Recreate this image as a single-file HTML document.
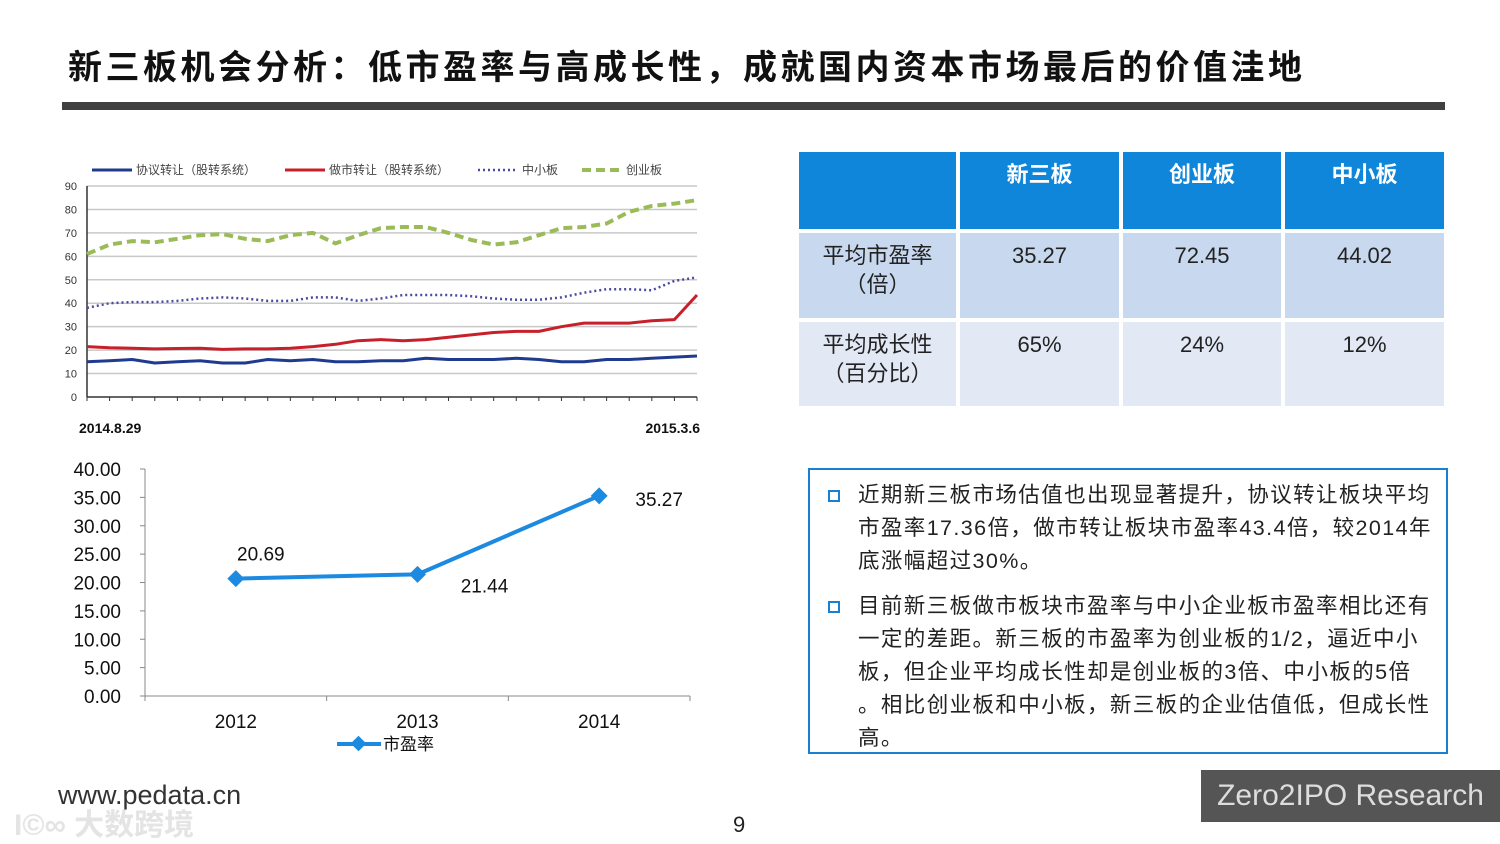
<!DOCTYPE html>
<html><head><meta charset="utf-8">
<style>
body{margin:0;width:1500px;height:844px;background:#fff;position:relative;overflow:hidden;font-family:"Liberation Sans","Noto Sans CJK SC",sans-serif;}
.abs{position:absolute;}
#title{left:68px;top:40px;font-size:34px;font-weight:bold;color:#111;letter-spacing:3.5px;white-space:nowrap;}
#bar{left:62px;top:102px;width:1383px;height:8px;background:#404040;}
table{position:absolute;left:797px;top:150px;border-collapse:separate;border-spacing:4px;margin:-2px;}
td{font-size:22px;color:#222;text-align:center;vertical-align:top;padding-top:8px;line-height:29px;}
.h td{background:#0f86d9;color:#fff;font-weight:bold;height:68px;}
.r1 td{background:#c8d9ef;height:76px;}
.r2 td{background:#e2e9f5;height:75px;}
#box{left:808px;top:468px;width:636px;height:282px;border:2px solid #1a7fd0;}
.p{position:absolute;left:48px;width:590px;font-size:21.5px;line-height:33px;color:#222;white-space:nowrap;}
.bul{position:absolute;left:18px;width:8px;height:8px;border:2px solid #1a7fd0;}
#logo{left:1201px;top:770px;width:299px;height:52px;background:#555;color:#ddd;font-size:30px;line-height:52px;text-align:center;}
</style></head><body>
<div class="abs" id="title">新三板机会分析：低市盈率与高成长性，成就国内资本市场最后的价值洼地</div>
<div class="abs" id="bar"></div>

<svg class="abs" style="left:0;top:0" width="760" height="770">
<g id="top"></g>
<g id="bot"></g>
</svg>

<table>
<tr class="h"><td style="width:155px"></td><td style="width:157px">新三板</td><td style="width:156px">创业板</td><td style="width:157px">中小板</td></tr>
<tr class="r1"><td>平均市盈率<br>（倍）</td><td>35.27</td><td>72.45</td><td>44.02</td></tr>
<tr class="r2"><td>平均成长性<br>（百分比）</td><td>65%</td><td>24%</td><td>12%</td></tr>
</table>

<div class="abs" id="box">
<div class="bul" style="top:20px"></div>
<div class="p" style="top:9px;letter-spacing:1.4px">近期新三板市场估值也出现显著提升，协议转让板块平均<br>市盈率17.36倍，做市转让板块市盈率43.4倍，较2014年<br>底涨幅超过30%。</div>
<div class="bul" style="top:131px"></div>
<div class="p" style="top:120px;letter-spacing:1.4px">目前新三板做市板块市盈率与中小企业板市盈率相比还有<br>一定的差距。新三板的市盈率为创业板的1/2，逼近中小<br>板，但企业平均成长性却是创业板的3倍、中小板的5倍<br>。相比创业板和中小板，新三板的企业估值低，但成长性<br>高。</div>
</div>

<div class="abs" style="left:58px;top:780px;font-size:27px;color:#333">www.pedata.cn</div>
<div class="abs" style="left:14px;top:800px;font-size:30px;color:#e4e4e4;font-weight:bold">I©∞ 大数跨境</div>
<div class="abs" style="left:733px;top:812px;font-size:22px;color:#222">9</div>
<div class="abs" id="logo">Zero2IPO Research</div>

<script>
const topBlue=[15,15.5,16,14.5,15,15.5,14.5,14.5,16,15.5,16,15,15,15.5,15.5,16.5,16,16,16,16.5,16,15,15,16,16,16.5,17,17.5];
const topRed=[21.5,21,20.8,20.5,20.7,20.8,20.3,20.5,20.5,20.8,21.5,22.5,24,24.5,24,24.5,25.5,26.5,27.5,28,28,30,31.5,31.5,31.5,32.5,33,43.5];
const topPurple=[38,40,40.5,40.5,41,42,42.5,42,41,41,42.5,42.5,41,42,43.5,43.5,43.5,43,42,41.5,41.5,42.5,44.5,46,46,45.5,49.5,51];
const topGreen=[61,65,66.5,66,67.5,69,69.5,67.5,66.5,69,70,65.5,69,72,72.5,72.5,70,67,65,66,69,72,72.5,74,79,81.5,82.5,84];
const topTicks=[0,10,20,30,40,50,60,70,80,90];
const topDates=["2014.8.29","2015.3.6"];
const botYears=["2012","2013","2014"];
const botValues=[20.69,21.44,35.27];
const botTicks=[0,5,10,15,20,25,30,35,40];

const NS="http://www.w3.org/2000/svg";
function mk(p,t,a,txt){const e=document.createElementNS(NS,t);for(const k in a)e.setAttribute(k,a[k]);if(txt!==undefined)e.textContent=txt;p.appendChild(e);return e;}

const T=document.getElementById('top');
const tx0=87,tx1=697,ty0=397,ty1=186;
const ty=v=>ty0-(v/90)*(ty0-ty1);
const tx=i=>tx0+i*(tx1-tx0)/(topBlue.length-1);
topTicks.forEach(v=>{
 const l=mk(T,'line',{x1:tx0,x2:tx1,y1:ty(v),y2:ty(v),stroke:v?'#c8c8c8':'#333','stroke-width':1.5});
 
 
 const t=mk(T,'text',{x:77,y:ty(v)+4,'font-size':11,'text-anchor':'end',fill:'#333'},v);
 
 
});
mk(T,'line',{x1:tx0,x2:tx0,y1:ty1,y2:ty0,stroke:'#333','stroke-width':1.5});
for(let i=0;i<topBlue.length;i++){mk(T,'line',{x1:tx(i),x2:tx(i),y1:ty0,y2:ty0+4,stroke:'#333'});}
function tline(arr,col,w,dash,name){
 const d=arr.map((v,i)=>(i?'L':'M')+tx(i).toFixed(1)+' '+ty(v).toFixed(1)).join(' ');
 const p=mk(T,'path',{d:d,fill:'none',stroke:col,'stroke-width':w,'stroke-dasharray':dash,'stroke-linejoin':'round'});
 
 
}
tline(topGreen,'#9bbb59',4,'9 5','line-chinext');
tline(topPurple,'#4b4aa0',2.5,'2 3','line-sme-board');
tline(topRed,'#c8202a',3,'none','line-market-making');
tline(topBlue,'#1f3b8f',3,'none','line-agreement-transfer');
const lg=[['#1f3b8f','none',3,'协议转让（股转系统）',92],['#c8202a','none',3,'做市转让（股转系统）',285],['#4b4aa0','2 3',2.5,'中小板',478],['#9bbb59','9 5',4,'创业板',582]];
lg.forEach(g=>{
 mk(T,'line',{x1:g[4],x2:g[4]+40,y1:170,y2:170,stroke:g[0],'stroke-width':g[2],'stroke-dasharray':g[1]});
 const t=mk(T,'text',{x:g[4]+44,y:174,'font-size':12,fill:'#444'},g[3]);
 
 
});
mk(T,'text',{x:79,y:433,'font-size':14,'font-weight':'bold',fill:'#111'},topDates[0]);
mk(T,'text',{x:700,y:433,'font-size':14,'font-weight':'bold',fill:'#111','text-anchor':'end'},topDates[1]);

const B=document.getElementById('bot');
const bx0=145,bx1=690,by0=696,by1=469;
const by=v=>by0-(v/40)*(by0-by1);
const bw=(bx1-bx0)/botYears.length;
const bx=i=>bx0+bw*(i+0.5);
mk(B,'line',{x1:bx0,x2:bx0,y1:by1,y2:by0,stroke:'#888'});
mk(B,'line',{x1:bx0,x2:bx1,y1:by0,y2:by0,stroke:'#888'});
botTicks.forEach(v=>{
 mk(B,'line',{x1:bx0-5,x2:bx0,y1:by(v),y2:by(v),stroke:'#888'});
 const t=mk(B,'text',{x:121,y:by(v)+7,'font-size':19,'text-anchor':'end',fill:'#111'},v.toFixed(2));
 
 
});
for(let i=0;i<=botYears.length;i++)mk(B,'line',{x1:bx0+bw*i,x2:bx0+bw*i,y1:by0,y2:by0+5,stroke:'#888'});
botYears.forEach((y,i)=>{const t=mk(B,'text',{x:bx(i),y:728,'font-size':19,'text-anchor':'middle',fill:'#111'},y);
 
 });
const bp=mk(B,'polyline',{points:botValues.map((v,i)=>bx(i)+','+by(v)).join(' '),fill:'none',stroke:'#1b8ae0','stroke-width':4});


const offs=[[25,-18],[67,18],[60,10]];
botValues.forEach((v,i)=>{
 const m=mk(B,'rect',{x:bx(i)-6,y:by(v)-6,width:12,height:12,fill:'#1b8ae0',transform:`rotate(45 ${bx(i)} ${by(v)})`});
 
 
 const t=mk(B,'text',{x:bx(i)+offs[i][0],y:by(v)+offs[i][1],'font-size':19,'text-anchor':'middle',fill:'#111'},v.toFixed(2));
 
 
});
mk(B,'line',{x1:337,x2:381,y1:744,y2:744,stroke:'#1b8ae0','stroke-width':4});
mk(B,'rect',{x:353,y:738,width:11,height:11,fill:'#1b8ae0',transform:'rotate(45 358.5 743.5)'});
const lt=mk(B,'text',{x:383,y:750,'font-size':17,fill:'#111'},'市盈率');


</script>
</body></html>
